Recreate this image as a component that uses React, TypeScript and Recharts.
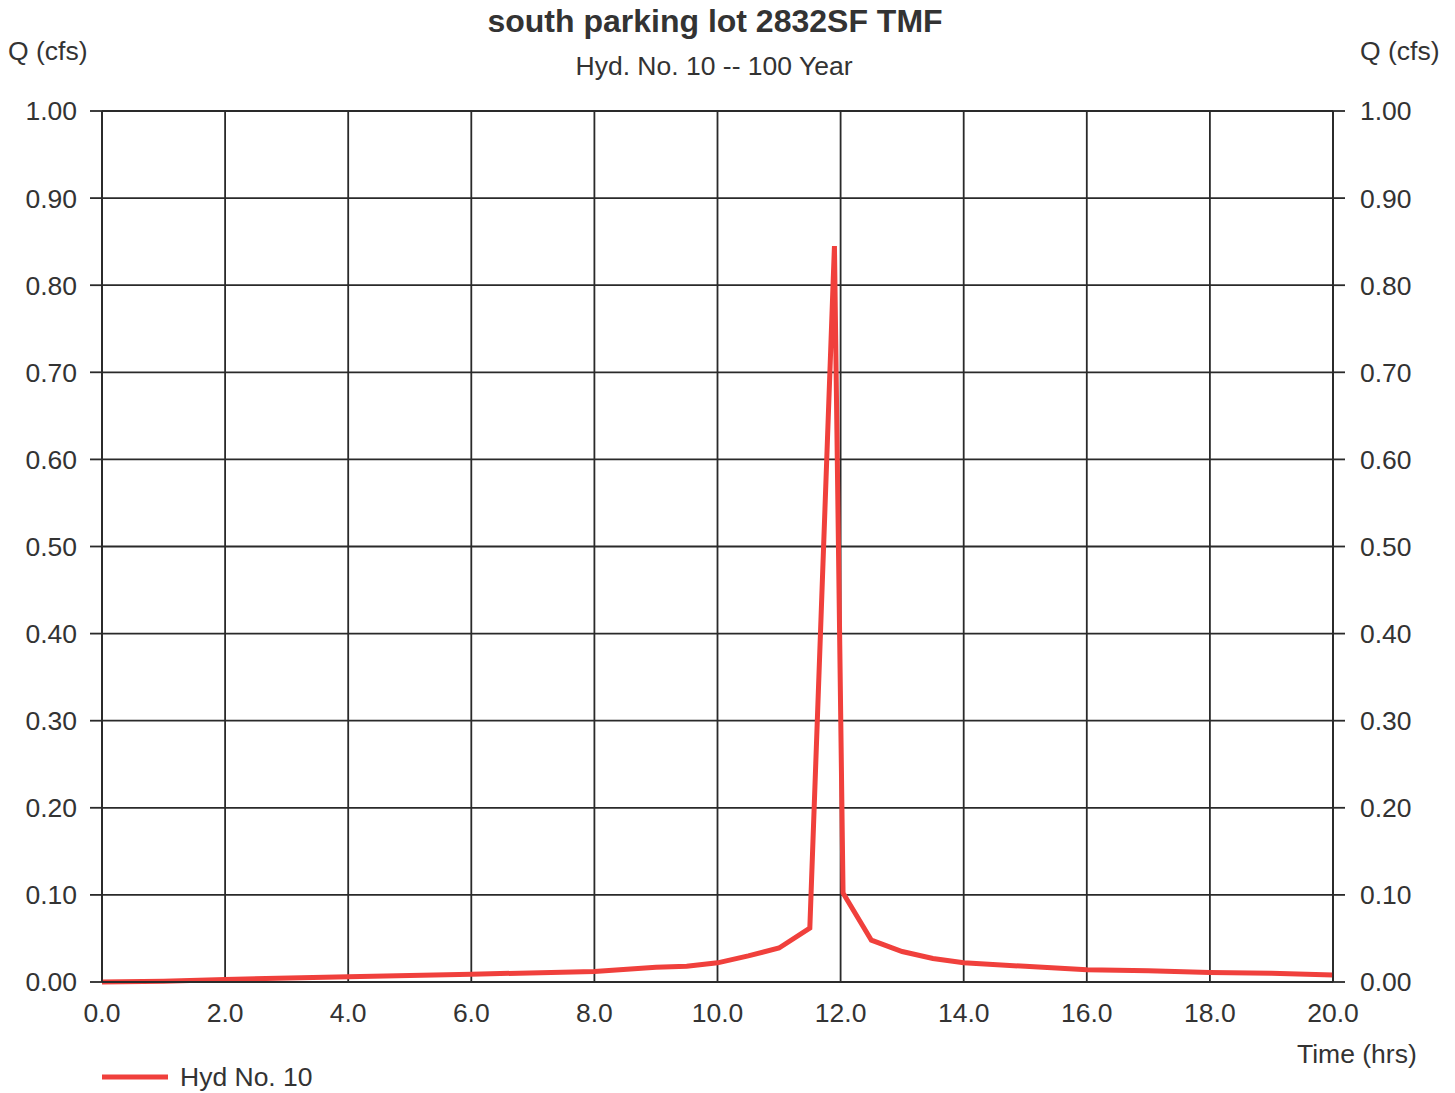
import React from 'react';
import { LineChart, Line, XAxis, YAxis, CartesianGrid } from 'recharts';

const hours = [0, 1, 2, 4, 6, 8, 9, 9.5, 10, 10.5, 11, 11.5, 11.9, 12.04, 12.5, 13, 13.5, 14, 15, 16, 17, 18, 19, 20];
const flow = [0, 0.001, 0.003, 0.006, 0.009, 0.012, 0.017, 0.018, 0.022, 0.03, 0.039, 0.062, 0.845, 0.102, 0.048, 0.035, 0.027, 0.022, 0.018, 0.014, 0.013, 0.011, 0.01, 0.008];

const xTicks = [0, 2, 4, 6, 8, 10, 12, 14, 16, 18, 20];
const yTicks = [0, 0.1, 0.2, 0.3, 0.4, 0.5, 0.6, 0.7, 0.8, 0.9, 1.0];

const data = hours.map((t, i) => ({ t, q: flow[i] }));

const font = '"Liberation Sans", Arial, sans-serif';
const txt = '#333';
const grid = '#2a2a2a';
const red = '#f0403c';
const fs = 26.5;

export default function App() {
  return (
    <div style={{ position: 'absolute', left: 0, top: 0, width: 1455, height: 1093, background: '#fff', fontFamily: font, lineHeight: 1.15 }}>
      <div style={{ position: 'absolute', left: 0, width: 1430, top: 3, textAlign: 'center', fontSize: 32, fontWeight: 'bold', color: txt }}>
        south parking lot 2832SF TMF
      </div>
      <div style={{ position: 'absolute', left: 0, width: 1428, top: 51, textAlign: 'center', fontSize: fs, color: txt }}>
        Hyd. No. 10 -- 100 Year
      </div>
      <div style={{ position: 'absolute', left: 8, top: 36, fontSize: fs, color: txt }}>Q (cfs)</div>
      <div style={{ position: 'absolute', left: 1360, top: 36, fontSize: fs, color: txt }}>Q (cfs)</div>
      <div style={{ position: 'absolute', left: 1297, top: 1039, fontSize: fs, color: txt }}>Time (hrs)</div>
      <div style={{ position: 'absolute', left: 102, top: 1062, display: 'flex', alignItems: 'center', fontSize: fs, color: txt }}>
        <svg width={66} height={10} style={{ marginRight: 12 }}>
          <line x1={0} y1={5} x2={66} y2={5} stroke={red} strokeWidth={5} />
        </svg>
        Hyd No. 10
      </div>
      <LineChart width={1455} height={1093} data={data} margin={{ top: 111, right: 0, left: 0, bottom: 0 }}>
        <CartesianGrid yAxisId="l" stroke={grid} strokeWidth={1.8} />
        <XAxis
          dataKey="t"
          type="number"
          domain={[0, 20]}
          ticks={xTicks}
          tickFormatter={(v) => v.toFixed(1)}
          height={111}
          tickLine={false}
          axisLine={{ stroke: grid, strokeWidth: 1.8 }}
          tickSize={0}
          tickMargin={21}
          tick={{ fill: txt, fontSize: fs, fontFamily: font }}
          interval={0}
        />
        <YAxis
          yAxisId="l"
          orientation="left"
          domain={[0, 1]}
          ticks={yTicks}
          tickFormatter={(v) => v.toFixed(2)}
          width={102}
          tickSize={12}
          tickMargin={13}
          tickLine={{ stroke: grid, strokeWidth: 1.8 }}
          axisLine={{ stroke: grid, strokeWidth: 1.8 }}
          tick={{ fill: txt, fontSize: fs, fontFamily: font }}
          interval={0}
        />
        <YAxis
          yAxisId="r"
          orientation="right"
          domain={[0, 1]}
          ticks={yTicks}
          tickFormatter={(v) => v.toFixed(2)}
          width={122}
          tickSize={12}
          tickMargin={15}
          tickLine={{ stroke: grid, strokeWidth: 1.8 }}
          axisLine={{ stroke: grid, strokeWidth: 1.8 }}
          tick={{ fill: txt, fontSize: fs, fontFamily: font }}
          interval={0}
        />
        <Line
          yAxisId="r"
          dataKey="q"
          type="linear"
          stroke="none"
          dot={false}
          legendType="none"
          isAnimationActive={false}
        />
        <Line
          yAxisId="l"
          dataKey="q"
          type="linear"
          stroke={red}
          strokeWidth={5}
          dot={false}
          isAnimationActive={false}
        />
      </LineChart>
    </div>
  );
}
